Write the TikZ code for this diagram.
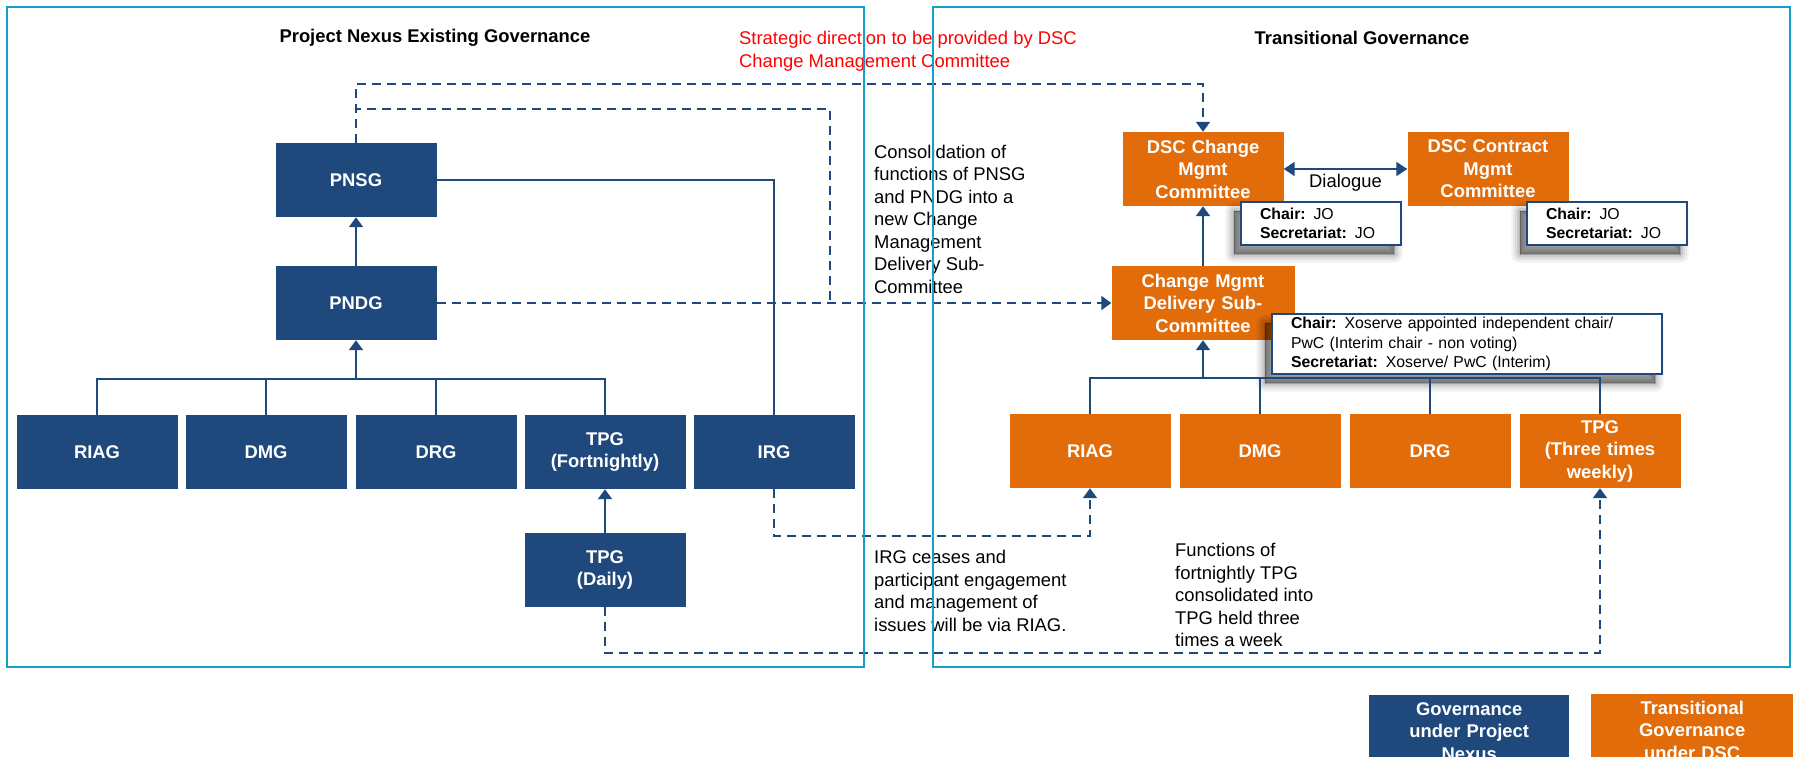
\documentclass[tikz,border=0pt]{standalone}
\usepackage{fontspec}
\setmainfont{Liberation Sans}
\usetikzlibrary{arrows.meta}
\definecolor{nexusblue}{RGB}{31,73,125}
\definecolor{dscorange}{RGB}{227,108,10}
\definecolor{framecyan}{RGB}{20,160,200}

\begin{document}
\begin{tikzpicture}[x=1pt,y=-1pt,
	govbox/.style={rectangle, fill=#1, text=white, inner sep=0pt, minimum width=161pt, minimum height=74pt, text width=150pt, align=center, font=\bfseries\fontsize{18.4}{22.5}\selectfont},
	shadowlayer/.style 2 args={preaction={draw=black, fill=black, line width=#1, line join=round, opacity=#2, transform canvas={shift={(-7pt,-9pt)}}}},
	chairbox/.style={rectangle, draw=nexusblue, line width=2pt, fill=white, inner xsep=19pt, inner ysep=0pt, align=left, anchor=north west, font=\fontsize{15.8}{19.4}\selectfont, shadowlayer={18pt}{0.04}, shadowlayer={14pt}{0.05}, shadowlayer={10pt}{0.06}, shadowlayer={6pt}{0.08}, shadowlayer={2pt}{0.1}, shadowlayer={0pt}{0.12}},
	notetext/.style={inner sep=0pt, align=left, anchor=west, font=\fontsize{18.4}{22.5}\selectfont},
	titletext/.style={inner sep=0pt, font=\bfseries\fontsize{18.4}{22.5}\selectfont},
	link/.style={draw=nexusblue, line width=2pt},
	dashlink/.style={link, dash pattern=on 9pt off 6pt},
	tip/.style={-{Triangle[width=14pt,length=10pt]}},
	frame/.style={draw=framecyan, line width=2.5pt}]
	\useasboundingbox (0,0) rectangle (1793,757);
	\clip (0,0) rectangle (1793,757);

	\node[titletext] (lefttitle) at (435,38) {Project Nexus Existing Governance};
	\node[titletext] (righttitle) at (1362,38) {Transitional Governance};
	\node[notetext, text=red] (strategy) at (739,51) {Strategic direction to be provided by DSC\\Change Management Committee};

	\node[govbox=nexusblue] (pnsg) at (356,180) {PNSG};
	\node[govbox=nexusblue] (pndg) at (356,303) {PNDG};
	\node[govbox=nexusblue] (riag1) at (97,452) {RIAG};
	\node[govbox=nexusblue] (dmg1) at (266,452) {DMG};
	\node[govbox=nexusblue] (drg1) at (436,452) {DRG};
	\node[govbox=nexusblue] (tpg1) at (605,452) {TPG\\(Fortnightly)};
	\node[govbox=nexusblue] (irg) at (774,452) {IRG};
	\node[govbox=nexusblue] (tpgd) at (605,570) {TPG\\(Daily)};

	\node[govbox=dscorange] (dscchg) at (1203,169) {DSC Change\\Mgmt\\Committee};
	\node[govbox=dscorange] (dsccon) at (1488,169) {DSC Contract\\Mgmt\\Committee};
	\node[govbox=dscorange, minimum width=183pt] (cmdsc) at (1203,303) {Change Mgmt\\Delivery Sub-\\Committee};
	\node[govbox=dscorange] (riag2) at (1090,451) {RIAG};
	\node[govbox=dscorange] (dmg2) at (1260,451) {DMG};
	\node[govbox=dscorange] (drg2) at (1430,451) {DRG};
	\node[govbox=dscorange] (tpg2) at (1600,451) {TPG\\(Three times\\weekly)};

	\node[chairbox, minimum width=160pt, minimum height=43pt, text width=122pt] (chair1) at (1240,201) {\textbf{Chair:} JO\\\textbf{Secretariat:} JO};
	\node[chairbox, minimum width=160pt, minimum height=43pt, text width=122pt] (chair2) at (1526,201) {\textbf{Chair:} JO\\\textbf{Secretariat:} JO};
	\node[chairbox, minimum width=390pt, minimum height=60pt, text width=352pt] (chair3) at (1271,313) {\textbf{Chair:} Xoserve appointed independent chair/\\PwC (Interim chair - non voting)\\\textbf{Secretariat:} Xoserve/ PwC (Interim)};

	\node[notetext] (consnote) at (874,219) {Consolidation of\\functions of PNSG\\and PNDG into a\\new Change\\Management\\Delivery Sub-\\Committee};
	\node[notetext] (irgnote) at (874,591) {IRG ceases and\\participant engagement\\and management of\\issues will be via RIAG.};
	\node[notetext] (tpgnote) at (1175,595) {Functions of\\fortnightly TPG\\consolidated into\\TPG held three\\times a week};

	\node[govbox=nexusblue, minimum width=200pt, minimum height=72pt, anchor=north west] (legnexus) at (1369,695) {Governance\\under Project\\Nexus};
	\node[govbox=dscorange, minimum width=202pt, minimum height=72pt, anchor=north west] (legdsc) at (1591,694) {Transitional\\Governance\\under DSC};

	\coordinate (busl) at (356,379);
	\coordinate (busr) at (1203,378);
	\coordinate (pmerge) at (830,303);

	\foreach \i in {riag1,dmg1,drg1,tpg1}
	{
		\draw[link] (\i.north) |- (busl);
	};
	\foreach \i in {riag2,dmg2,drg2,tpg2}
	{
		\draw[link] (\i.north) |- (busr);
	};

	\foreach \i / \j in {busl/pndg.south, pndg/pnsg, tpgd/tpg1, busr/cmdsc.south, cmdsc/dscchg}
	{
		\draw[link, tip] (\i) -- (\j);
	};
	\draw[link] (pnsg.east) -| (irg.north);
	\draw[link, {Triangle[width=14pt,length=11pt]}-{Triangle[width=14pt,length=11pt]}] (dscchg) -- (dsccon) node[midway, below=4pt, inner sep=0pt, font=\fontsize{18.4}{22.5}\selectfont] {Dialogue};

	\draw[dashlink, tip] (pnsg.north) -- ++(0,-59) -| (dscchg.north);
	\draw[dashlink] (pnsg.north) -- ++(0,-34) -| (pmerge);
	\draw[dashlink, tip] (pndg.east) -- (cmdsc.west);
	\draw[dashlink, tip] (irg.south) -- ++(0,47) -| (riag2.south);
	\draw[dashlink, tip] (tpgd.south) -- ++(0,46) -| (tpg2.south);

	\draw[frame] (7,7) rectangle (864,667);
	\draw[frame] (933,7) rectangle (1790,667);
\end{tikzpicture}
\end{document}
